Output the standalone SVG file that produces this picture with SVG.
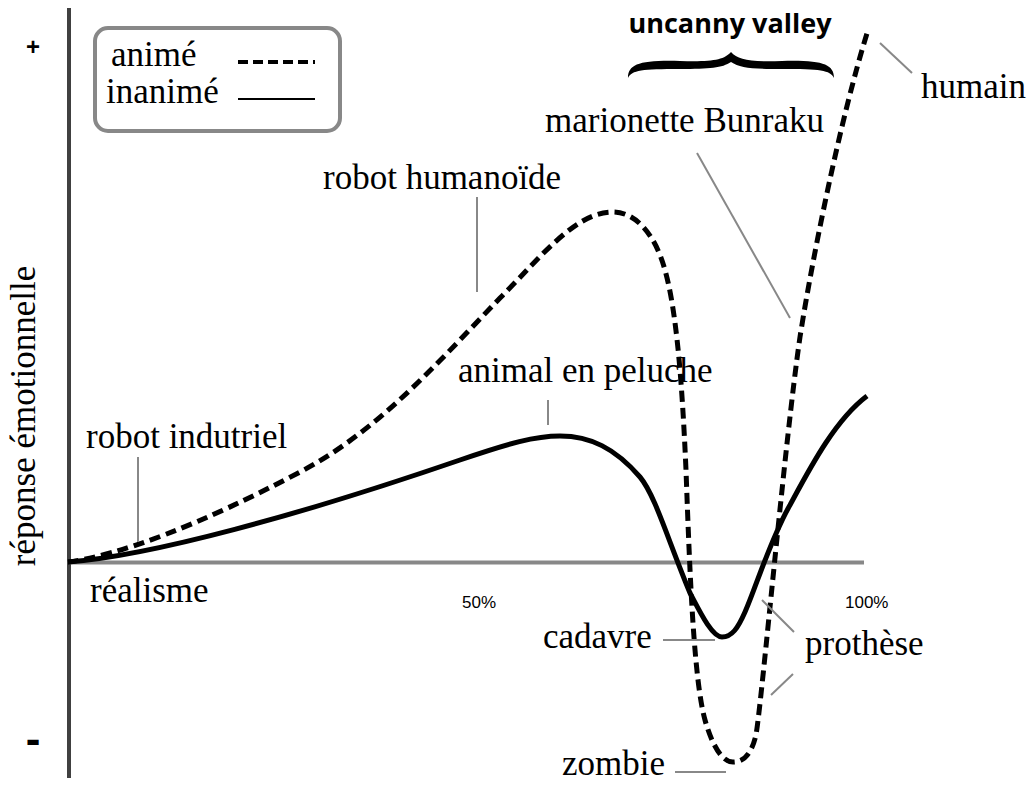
<svg xmlns="http://www.w3.org/2000/svg" width="1032" height="787" viewBox="0 0 1032 787">
<style>
.lbl{font-family:'Liberation Serif','Times New Roman',serif;font-size:35px;fill:#000}
.pct{font-family:'Liberation Sans',Arial,sans-serif;font-size:17px;fill:#000}
.sign{font-family:'Liberation Sans',Arial,sans-serif;font-weight:bold;fill:#000}
.lead{stroke:#888;stroke-width:2;fill:none}
.curve{stroke:#000;stroke-width:5;fill:none}
.dash{stroke-dasharray:11,6}
</style>
<rect width="1032" height="787" fill="#fff"/>
<g id="axes">
<line x1="69" y1="8" x2="69" y2="778" stroke="#404040" stroke-width="4"/>
<line x1="69" y1="562.5" x2="864" y2="562.5" stroke="#888" stroke-width="4"/>
<text class="sign" x="33" y="55" font-size="24" text-anchor="middle">+</text>
<text class="sign" x="33" y="754" font-size="44" text-anchor="middle">-</text>
<text class="lbl" transform="translate(35,416) rotate(-90)" font-size="35.5" text-anchor="middle">réponse émotionnelle</text>
<text class="lbl" x="90" y="602">réalisme</text>
<text class="pct" x="462" y="608">50%</text>
<text class="pct" x="845" y="608">100%</text>
</g>
<g id="legend">
<rect x="95" y="28" width="245" height="103" rx="13" fill="#fff" stroke="#888" stroke-width="4"/>
<text class="lbl" x="111" y="66" font-size="33">animé</text>
<text class="lbl" x="106" y="103" font-size="33">inanimé</text>
<line x1="238" y1="62" x2="315" y2="62" stroke="#000" stroke-width="4" stroke-dasharray="10,5"/>
<line x1="238" y1="99" x2="315" y2="99" stroke="#000" stroke-width="2"/>
</g>
<g id="curves">
<path id="anime" class="curve dash" d="M68,562 C120,555 200,525 300,472 C380,430 440,360 500,298 C540,258 575,212 613,212 C630,212 648,225 660,255 C676,295 682,380 686,470 C690,580 694,680 705,720 C712,745 722,762 733,762 C745,762 752,752 756,735 C762,700 785,440 800,337 C812,260 840,120 868,30"/>
<path id="inanime" class="curve" d="M68,562 C150,556 300,515 460,460 C510,443 535,436 560,436 C590,436 615,448 640,477 C655,495 668,540 690,593 C700,612 712,637 722,637 C732,637 738,628 745,612 C755,590 770,540 790,505 C810,468 835,420 867,396"/>
</g>
<g id="uncanny-valley">
<text x="730" y="33" text-anchor="middle" font-family="'Open Sans',sans-serif" font-weight="bold" font-size="27">uncanny valley</text>
<path d="M628,78 C628,64 640,60 680,61 C712,62 724,60 731,52 C738,60 750,62 782,61 C822,60 834,64 834,78 C830,70 820,69 782,69 C752,69 740,68 731,62 C722,68 710,69 680,69 C642,69 632,70 628,78 Z" fill="#000"/>
</g>
<g id="labels">
<g id="humain"><text class="lbl" x="921" y="98" font-size="36">humain</text><line class="lead" x1="880" y1="43" x2="912" y2="73"/></g>
<g id="marionette"><text class="lbl" x="545" y="132">marionette Bunraku</text><line class="lead" x1="697" y1="153" x2="790" y2="318"/></g>
<g id="robot-humanoide"><text class="lbl" x="323" y="189">robot humanoïde</text><line class="lead" x1="477" y1="197" x2="477" y2="292"/></g>
<g id="animal-peluche"><text class="lbl" x="458" y="382">animal en peluche</text><line class="lead" x1="548" y1="400" x2="548" y2="425"/></g>
<g id="robot-industriel"><text class="lbl" x="86" y="448">robot indutriel</text><line class="lead" x1="138" y1="457" x2="138" y2="542"/></g>
<g id="cadavre"><text class="lbl" x="543" y="648">cadavre</text><line class="lead" x1="663" y1="640" x2="715" y2="640"/></g>
<g id="prothese"><text class="lbl" x="805" y="655">prothèse</text><line class="lead" x1="762" y1="600" x2="794" y2="632"/><line class="lead" x1="771" y1="695" x2="793" y2="674"/></g>
<g id="zombie"><text class="lbl" x="562" y="775">zombie</text><line class="lead" x1="675" y1="772" x2="726" y2="772"/></g>
</g>
</svg>
